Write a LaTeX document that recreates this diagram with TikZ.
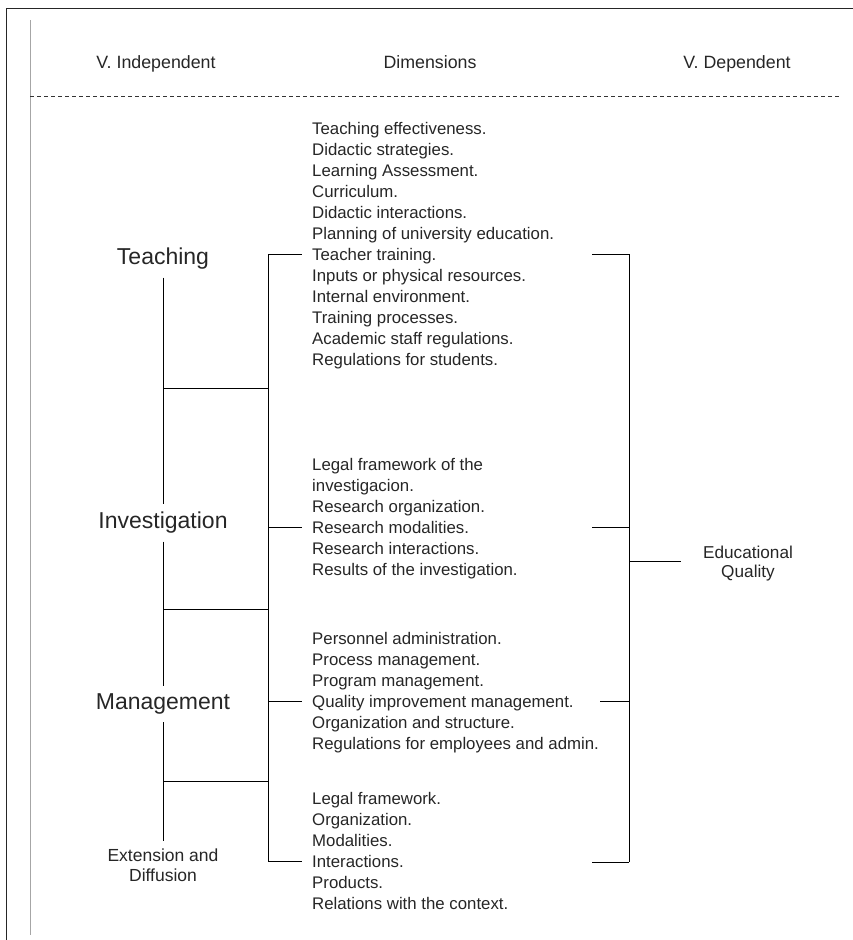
\documentclass[tikz,border=0pt]{standalone}
\usepackage{fontspec}
\setmainfont{Liberation Sans}
\definecolor{ink}{HTML}{262626}
\begin{document}
\begin{tikzpicture}[x=1pt, y=-1pt,
  head/.style={text=ink, inner sep=0pt, font=\fontsize{17.8}{21}\selectfont},
  var/.style={text=ink, inner sep=0pt, outer sep=8pt, font=\fontsize{23}{26}\selectfont},
  dims/.style={text=ink, inner sep=0pt, anchor=north west, align=left, font=\fontsize{16.8}{21}\selectfont},
  link/.style={line width=0.8pt, color=black}]
\useasboundingbox (0,0) rectangle (853,940);

\draw[line width=1pt, color=black!85] (6,940) -- (6,8) -- (853,8);
\draw[line width=0.8pt, color=black!35] (30,20) -- (30,935);
\draw[line width=0.7pt, color=black!80, dash pattern=on 4pt off 3pt] (30,96) -- (840,96);

\node[head, anchor=base] (hInd) at (156,68.5) {V. Independent};
\node[head, anchor=base] (hDim) at (430,68.5) {Dimensions};
\node[head, anchor=base] (hDep) at (737,68.5) {V. Dependent};

% independent variables
\node[var] (teach) at (163,259) {Teaching};
\node[var] (invest) at (163,523) {Investigation};
\node[var] (manage) at (163,704) {Management};
\node[var, align=center, font=\fontsize{17.5}{20}\selectfont] (ext) at (163,865) {Extension and\\Diffusion};

\draw[link] (teach) -- (invest);
\draw[link] (invest) -- (manage);
\draw[link] (manage) -- (ext);

% dimensions
\node[dims] (dimT) at (312,121.75) {Teaching effectiveness.\\Didactic strategies.\\Learning Assessment.\\Curriculum.\\Didactic interactions.\\Planning of university education.\\Teacher training.\\Inputs or physical resources.\\Internal environment.\\Training processes.\\Academic staff regulations.\\Regulations for students.};
\node[dims] (dimI) at (312,457.75) {Legal framework of the\\investigacion.\\Research organization.\\Research modalities.\\Research interactions.\\Results of the investigation.};
\node[dims] (dimM) at (312,631.75) {Personnel administration.\\Process management.\\Program management.\\Quality improvement management.\\Organization and structure.\\Regulations for employees and admin.};
\node[dims] (dimE) at (312,791.75) {Legal framework.\\Organization.\\Modalities.\\Interactions.\\Products.\\Relations with the context.};

\coordinate (jT) at (163,388);
\coordinate (jI) at (163,609);
\coordinate (jM) at (163,781);

\coordinate (lT) at (268,254);
\coordinate (lI) at (268,527);
\coordinate (lM) at (268,701);
\coordinate (lE) at (268,861);

\coordinate (kT) at (302,254);
\coordinate (kI) at (302,527);
\coordinate (kM) at (302,701);
\coordinate (kE) at (302,861);

\draw[link] (jT) -- (jT -| lT);
\draw[link] (jI) -- (jI -| lT);
\draw[link] (jM) -- (jM -| lT);
\draw[link] (lT) -- (lE);
\draw[link] (lT) -- (kT);
\draw[link] (lI) -- (kI);
\draw[link] (lM) -- (kM);
\draw[link] (lE) -- (kE);

\coordinate (rT) at (629,254);
\coordinate (rI) at (629,527);
\coordinate (rM) at (629,701);
\coordinate (rE) at (629,862);

\draw[link] (592,254) -- (rT);
\draw[link] (592,527) -- (rI);
\draw[link] (600,701) -- (rM);
\draw[link] (592,862) -- (rE);
\draw[link] (rT) -- (rE);

% dependent variable
\node[head, align=center, font=\fontsize{17.2}{19.5}\selectfont] (quality) at (748,563.5) {Educational\\Quality};
\coordinate (rQ) at (629,561);
\coordinate (qL) at (681,561);
\draw[link] (rQ) -- (qL);

\end{tikzpicture}
\end{document}
